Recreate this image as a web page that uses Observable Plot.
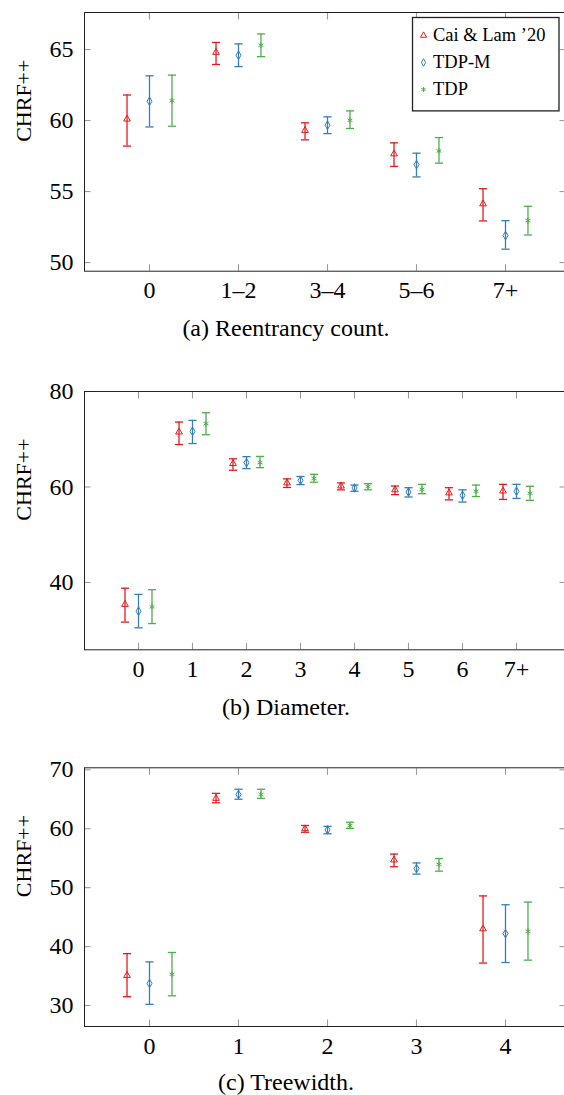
<!DOCTYPE html>
<html><head><meta charset="utf-8">
<script src="https://cdn.jsdelivr.net/npm/d3@7"></script>
<script src="https://cdn.jsdelivr.net/npm/@observablehq/plot@0.6"></script>
<style>
html,body{margin:0;padding:0;background:#fff;overflow:hidden;}
#fig{position:relative;width:564px;height:1095px;font-family:"Liberation Serif","Times New Roman",serif;color:#000;overflow:hidden;}
.abs{position:absolute;}
.caption{position:absolute;left:0;width:572px;text-align:center;font-size:24px;line-height:24px;white-space:nowrap;}
</style></head><body><div id="fig"></div>
<script>
// ---------- data ----------
const seriesNames = ["Cai & Lam ’20", "TDP-M", "TDP"];

// (a) Reentrancy count
const reentCats = ["0", "1–2", "3–4", "5–6", "7+"];
const reentCai   = [60.1, 64.8, 59.3, 57.65, 54.13];
const reentCaiLo = [58.2, 63.95, 58.64, 56.77, 52.93];
const reentCaiHi = [61.8, 65.5, 59.84, 58.43, 55.2];
const reentTdpm   = [61.36, 64.6, 59.67, 56.9, 51.9];
const reentTdpmLo = [59.55, 63.8, 59.08, 56.03, 50.94];
const reentTdpmHi = [63.15, 65.4, 60.26, 57.7, 52.95];
const reentTdp   = [61.4, 65.3, 60.02, 57.86, 52.95];
const reentTdpLo = [59.6, 64.5, 59.44, 57.0, 51.94];
const reentTdpHi = [63.2, 66.1, 60.68, 58.8, 53.96];
const reentYTicks = [50, 55, 60, 65];

// (b) Diameter
const diamCats = ["0", "1", "2", "3", "4", "5", "6", "7+"];
const diamCai   = [35.4, 71.5, 64.9, 60.85, 60.2, 59.4, 58.75, 59.15];
const diamCaiLo = [31.7, 68.9, 63.5, 59.9, 59.4, 58.4, 57.3, 57.4];
const diamCaiHi = [38.8, 73.6, 65.9, 61.7, 60.85, 60.2, 59.85, 60.55];
const diamTdpm   = [34.0, 71.65, 65.1, 61.4, 59.8, 58.95, 58.25, 59.1];
const diamTdpmLo = [30.5, 69.1, 63.85, 60.5, 59.1, 57.9, 56.85, 57.6];
const diamTdpmHi = [37.5, 73.95, 66.35, 62.2, 60.4, 59.85, 59.4, 60.55];
const diamTdp   = [34.9, 73.25, 65.1, 61.8, 60.1, 59.5, 59.1, 58.7];
const diamTdpLo = [31.4, 70.95, 64.05, 61.0, 59.4, 58.6, 58.0, 57.2];
const diamTdpHi = [38.5, 75.55, 66.4, 62.65, 60.7, 60.55, 60.4, 60.15];
const diamYTicks = [40, 60, 80];

// (c) Treewidth
const twCats = ["0", "1", "2", "3", "4"];
const twCai   = [35.1, 65.15, 60.0, 54.7, 43.0];
const twCaiLo = [31.5, 64.4, 59.4, 53.55, 37.2];
const twCaiHi = [38.8, 66.0, 60.55, 55.7, 48.6];
const twTdpm   = [33.75, 65.8, 59.8, 53.25, 42.2];
const twTdpmLo = [30.2, 65.0, 59.15, 52.3, 37.3];
const twTdpmHi = [37.4, 66.7, 60.4, 54.2, 47.1];
const twTdp   = [35.3, 65.8, 60.55, 53.95, 42.6];
const twTdpLo = [31.65, 65.15, 60.05, 52.8, 37.7];
const twTdpHi = [39.0, 66.7, 61.1, 54.95, 47.55];
const twYTicks = [30, 40, 50, 60, 70];

const yLabel = "CHRF++";
const captions = ["(a) Reentrancy count.", "(b) Diameter.", "(c) Treewidth."];

// ---------- styles ----------
const colors = ["#e41a1c", "#377eb8", "#4daf4a"];
const symbols = ["triangle", "diamond", "asterisk"];
const markerR = [2.5, 2.6, 2.7];
const tickGray = "#9a9a9a";
const FONT = "Liberation Serif";
const capSymbol = { draw(ctx, size) { const w = Math.sqrt(size / Math.PI); ctx.moveTo(-w, 0); ctx.lineTo(w, 0); } };

const fig = document.getElementById("fig");

function rowsOf(cats, v, lo, hi) {
  return cats.map((c, i) => ({cat: c, v: v[i], lo: lo[i], hi: hi[i]}));
}

function makePanel(cfg) {
  const marks = [];
  const H = cfg.height;
  // ticks (inward, gray)
  marks.push(Plot.axisY({anchor: "left", ticks: cfg.yTicks, tickSize: -6.5, tickFormat: () => "", stroke: tickGray, strokeWidth: 1.1, label: null}));
  marks.push(Plot.axisY({anchor: "right", ticks: cfg.yTicks, tickSize: -6.5, tickFormat: () => "", stroke: tickGray, strokeWidth: 1.1, label: null}));
  marks.push(Plot.axisX({anchor: "bottom", tickSize: -6.5, tickFormat: () => "", stroke: tickGray, strokeWidth: 1.1, label: null}));
  marks.push(Plot.axisX({anchor: "top", tickSize: -6.5, tickFormat: () => "", stroke: tickGray, strokeWidth: 1.1, label: null}));
  // labels
  marks.push(Plot.axisY({anchor: "left", ticks: cfg.yTicks, tickSize: 0, tickPadding: 11, fontSize: 24, fill: "#000", label: null}));
  marks.push(Plot.axisX({anchor: "bottom", tickSize: 0, tickPadding: 10, fontSize: 24, fill: "#000", label: null}));
  marks.push(Plot.text([yLabel], {text: d => d, frameAnchor: "left", dx: -61, rotate: -90, fontSize: 22, fill: "#000"}));
  // series
  cfg.series.forEach((rows, s) => {
    const dx = (s - 1) * 0.25 * cfg.step;
    marks.push(Plot.ruleX(rows, {x: "cat", y1: "lo", y2: "hi", dx, stroke: colors[s], strokeWidth: 1.3}));
    marks.push(Plot.dot(rows, {x: "cat", y: "hi", dx, symbol: capSymbol, r: 4.1, fill: "none", stroke: colors[s], strokeWidth: 1.3}));
    marks.push(Plot.dot(rows, {x: "cat", y: "lo", dx, symbol: capSymbol, r: 4.1, fill: "none", stroke: colors[s], strokeWidth: 1.3}));
    marks.push(Plot.dot(rows, {x: "cat", y: "v", dx, symbol: symbols[s], r: markerR[s], fill: "none", stroke: colors[s], strokeWidth: 1}));
  });
  marks.push(Plot.frame({stroke: "#222", strokeWidth: 1}));
  const svg = Plot.plot({
    width: 566, height: H,
    marginLeft: 84, marginRight: 1, marginTop: cfg.marginTop, marginBottom: cfg.marginBottom,
    x: {type: "point", domain: cfg.cats, range: cfg.xRange, padding: 0, align: 0.5},
    y: {domain: cfg.yDomain},
    style: {fontFamily: FONT, fontSize: "24px", color: "#000", background: "transparent", maxWidth: "none", overflow: "visible"},
    marks
  });
  const wrap = document.createElement("div");
  wrap.className = "abs";
  wrap.style.left = "0px";
  wrap.style.top = cfg.top + "px";
  wrap.appendChild(svg);
  fig.appendChild(wrap);
}

function addCaption(text, top) {
  const d = document.createElement("div");
  d.className = "caption";
  d.style.top = top + "px";
  d.textContent = text;
  fig.appendChild(d);
}

// panel (a)
makePanel({
  cats: reentCats, top: 0, height: 305, marginTop: 12, marginBottom: 34.3,
  xRange: [146.8, 506.4], step: 89.9, yDomain: [49.39, 67.61], yTicks: reentYTicks,
  series: [rowsOf(reentCats, reentCai, reentCaiLo, reentCaiHi), rowsOf(reentCats, reentTdpm, reentTdpmLo, reentTdpmHi), rowsOf(reentCats, reentTdp, reentTdpLo, reentTdpHi)]
});
// panel (b)
makePanel({
  cats: diamCats, top: 380, height: 300, marginTop: 11, marginBottom: 30.7,
  xRange: [138, 516], step: 54, yDomain: [25.9, 80], yTicks: diamYTicks,
  series: [rowsOf(diamCats, diamCai, diamCaiLo, diamCaiHi), rowsOf(diamCats, diamTdpm, diamTdpmLo, diamTdpmHi), rowsOf(diamCats, diamTdp, diamTdpLo, diamTdpHi)]
});
// panel (c)
makePanel({
  cats: twCats, top: 756, height: 300, marginTop: 11.3, marginBottom: 30,
  xRange: [146.8, 506.4], step: 89.9, yDomain: [26.44, 70.34], yTicks: twYTicks,
  series: [rowsOf(twCats, twCai, twCaiLo, twCaiHi), rowsOf(twCats, twTdpm, twTdpmLo, twTdpmHi), rowsOf(twCats, twTdp, twTdpLo, twTdpHi)]
});

// legend (inside panel a)
const legend = Plot.plot({
  width: 146.5, height: 93.4, margin: 0,
  y: {type: "point", domain: seriesNames, range: [18.2, 72.2], padding: 0, axis: null},
  symbol: {domain: seriesNames, range: symbols},
  color: {domain: seriesNames, range: colors},
  style: {fontFamily: FONT, fontSize: "18.5px", color: "#000", background: "#fff", maxWidth: "none", overflow: "visible"},
  marks: [
    Plot.dot(seriesNames, {y: d => d, frameAnchor: "left", dx: 11, symbol: d => d, stroke: d => d, fill: "none", r: 2.3, strokeWidth: 1}),
    Plot.text(seriesNames, {y: d => d, text: d => d, frameAnchor: "left", dx: 20.5, textAnchor: "start", fontSize: 18.5, fill: "#000"}),
    Plot.frame({stroke: "#222", strokeWidth: 1.3})
  ]
});
const lw = document.createElement("div");
lw.className = "abs";
lw.style.left = "412.3px";
lw.style.top = "17.3px";
lw.appendChild(legend);
fig.appendChild(lw);

addCaption(captions[0], 315.9);
addCaption(captions[1], 695);
addCaption(captions[2], 1070);
</script></body></html>
